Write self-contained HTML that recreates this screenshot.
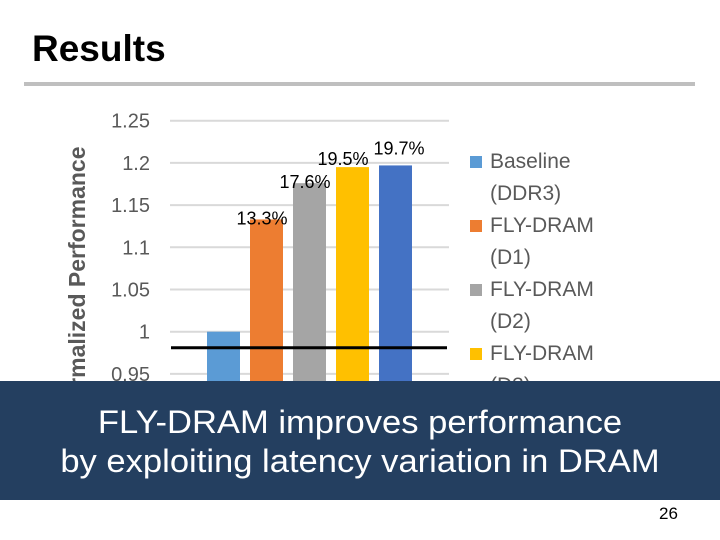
<!DOCTYPE html>
<html><head><meta charset="utf-8"><style>
body{margin:0;width:720px;height:540px;overflow:hidden;background:#fff;font-family:"Liberation Sans",sans-serif;position:relative}
.abs{position:absolute}
</style></head><body>
<div class="abs" style="left:32px;top:28px;font-size:37px;font-weight:bold;letter-spacing:0px">Results</div>
<div class="abs" style="left:24px;top:82px;width:671px;height:4px;background:#bfbfbf"></div>
<svg class="abs" style="left:0;top:0" width="720" height="540">
<g id="g"></g>
</svg>
<div class="abs" style="left:470px;top:146px;font-size:21px;color:#595959;line-height:32px">
<div><span style="display:inline-block;width:12px;height:12px;background:#5b9bd5;margin-right:8px"></span>Baseline<br><span style="padding-left:20px">(DDR3)</span></div>
<div><span style="display:inline-block;width:12px;height:12px;background:#ed7d31;margin-right:8px"></span>FLY-DRAM<br><span style="padding-left:20px">(D1)</span></div>
<div><span style="display:inline-block;width:12px;height:12px;background:#a5a5a5;margin-right:8px"></span>FLY-DRAM<br><span style="padding-left:20px">(D2)</span></div>
<div><span style="display:inline-block;width:12px;height:12px;background:#ffc000;margin-right:8px"></span>FLY-DRAM<br><span style="padding-left:20px">(D3)</span></div>
</div>
<div class="abs" style="left:0;top:381px;width:720px;height:119px;background:#243f60;color:#fff;font-size:32px;text-align:center;line-height:39px;padding-top:22px;box-sizing:border-box"><div style="transform:scaleX(1.08);transform-origin:center">FLY-DRAM improves performance<br>by exploiting latency variation in DRAM</div></div>
<div class="abs" style="left:659px;top:504px;font-size:17px;color:#000">26</div>
<script>
const categories=["Baseline (DDR3)","FLY-DRAM (D1)","FLY-DRAM (D2)","FLY-DRAM (D3)","FLY-DRAM (D4)"];
const values=[1.0,1.133,1.176,1.195,1.197];
const labels=["","13.3%","17.6%","19.5%","19.7%"];
const colors=["#5b9bd5","#ed7d31","#a5a5a5","#ffc000","#4472c4"];
const ticks=[0.95,1,1.05,1.1,1.15,1.2,1.25];
const tickLabels=["0.95","1","1.05","1.1","1.15","1.2","1.25"];
const ns="http://www.w3.org/2000/svg";
const g=document.getElementById('g');
const y=v=>331.7-(v-1)*844;
const x=i=>207+i*43;
function mk(t,a){const e=document.createElementNS(ns,t);for(const k in a)e.setAttribute(k,a[k]);g.appendChild(e);return e;}
ticks.forEach((t,i)=>{
 const l=mk('line',{x1:170,x2:449,y1:y(t),y2:y(t),stroke:'#d9d9d9','stroke-width':2});
 
 
 const tx=mk('text',{x:150,y:y(t)+7,'text-anchor':'end','font-size':20,fill:'#595959','font-family':'Liberation Sans, sans-serif'});
 tx.textContent=tickLabels[i];
 
 
});
values.forEach((v,i)=>{
 const r=mk('rect',{x:x(i),y:y(v),width:33,height:500-y(v),fill:colors[i]});
 
 
 if(labels[i]){const t=mk('text',{x:x(i)+16-(i==4?-4:(i==3?9:4)),y:y(v)+(i==4?-11:(i==3?-2:5)),'text-anchor':'middle','font-size':18,fill:'#000','font-family':'Liberation Sans, sans-serif'});
 t.textContent=labels[i];
 
 }
});
const bl=mk('line',{x1:171,x2:447,y1:347.7,y2:347.7,stroke:'#000','stroke-width':3});


const yt=mk('text',{x:0,y:0,transform:'translate(85,282) rotate(-90)','text-anchor':'middle','font-size':23,'font-weight':'bold',fill:'#595959','font-family':'Liberation Sans, sans-serif'});
yt.textContent='Normalized Performance';


</script>
</body></html>
